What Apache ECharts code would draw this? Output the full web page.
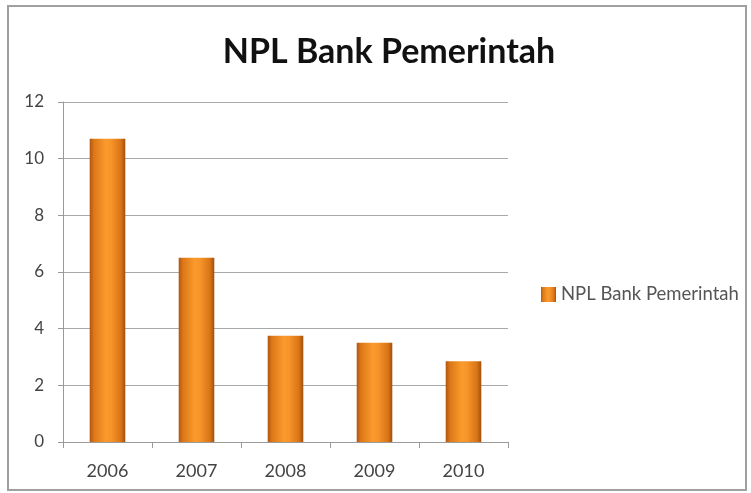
<!DOCTYPE html>
<html>
<head>
<meta charset="utf-8">
<script src="https://cdn.jsdelivr.net/npm/echarts@6/dist/echarts.min.js"></script>
<style>
html,body{margin:0;padding:0;background:#fff;}
#c{width:751px;height:493px;}
</style>
</head>
<body>
<div id="c"></div>
<script>
const titleText = 'NPL Bank Pemerintah';
const seriesName = 'NPL Bank Pemerintah';
const categories = ['2006', '2007', '2008', '2009', '2010'];
const values = [10.7, 6.5, 3.75, 3.5, 2.85];
const yTicks = [0, 2, 4, 6, 8, 10, 12];

const chart = echarts.init(document.getElementById('c'));
const barColor = new echarts.graphic.LinearGradient(0, 0, 1, 0, [
  {offset: 0, color: '#b05610'},
  {offset: 0.12, color: '#dc7818'},
  {offset: 0.45, color: '#fa9a2c'},
  {offset: 0.6, color: '#f7942a'},
  {offset: 0.88, color: '#d87416'},
  {offset: 1, color: '#a0500e'}
]);
chart.setOption({
  animation: false,
  backgroundColor: '#fff',
  title: {
    text: titleText,
    left: 384, top: 30, textAlign: 'center',
    textStyle: {fontFamily: 'Lato', fontWeight: 'bold', fontSize: 34, color: '#111'}
  },
  legend: {
    data: [seriesName],
    left: 536, top: 280,
    itemWidth: 15, itemHeight: 15, itemGap: 6,
    icon: 'rect',
    textStyle: {fontFamily: 'Lato', fontSize: 18.5, color: '#555'}
  },
  grid: {left: 63, right: 243, top: 102, bottom: 51},
  xAxis: {
    type: 'category',
    data: categories,
    axisLine: {lineStyle: {color: '#9a9a9a', width: 1}},
    axisTick: {show: true, length: 6, lineStyle: {color: '#9a9a9a'}},
    axisLabel: {fontFamily: 'Lato', fontSize: 18, color: '#444', margin: 20}
  },
  yAxis: {
    type: 'value',
    min: yTicks[0], max: yTicks[yTicks.length - 1], interval: 2,
    axisLine: {show: true, lineStyle: {color: '#9a9a9a', width: 1}},
    axisTick: {show: true, length: 5, lineStyle: {color: '#9a9a9a'}},
    splitLine: {lineStyle: {color: '#a8a8a8', width: 1}},
    axisLabel: {fontFamily: 'Lato', fontSize: 17, color: '#444', margin: 19}
  },
  series: [{
    name: seriesName,
    type: 'bar',
    data: values,
    barWidth: '40%',
    itemStyle: {color: barColor}
  }],
  graphic: [{
    type: 'rect',
    shape: {x: 8, y: 6, width: 738, height: 484},
    style: {fill: 'none', stroke: '#a0a0a0', lineWidth: 2},
    silent: true
  }]
});
</script>
</body>
</html>
